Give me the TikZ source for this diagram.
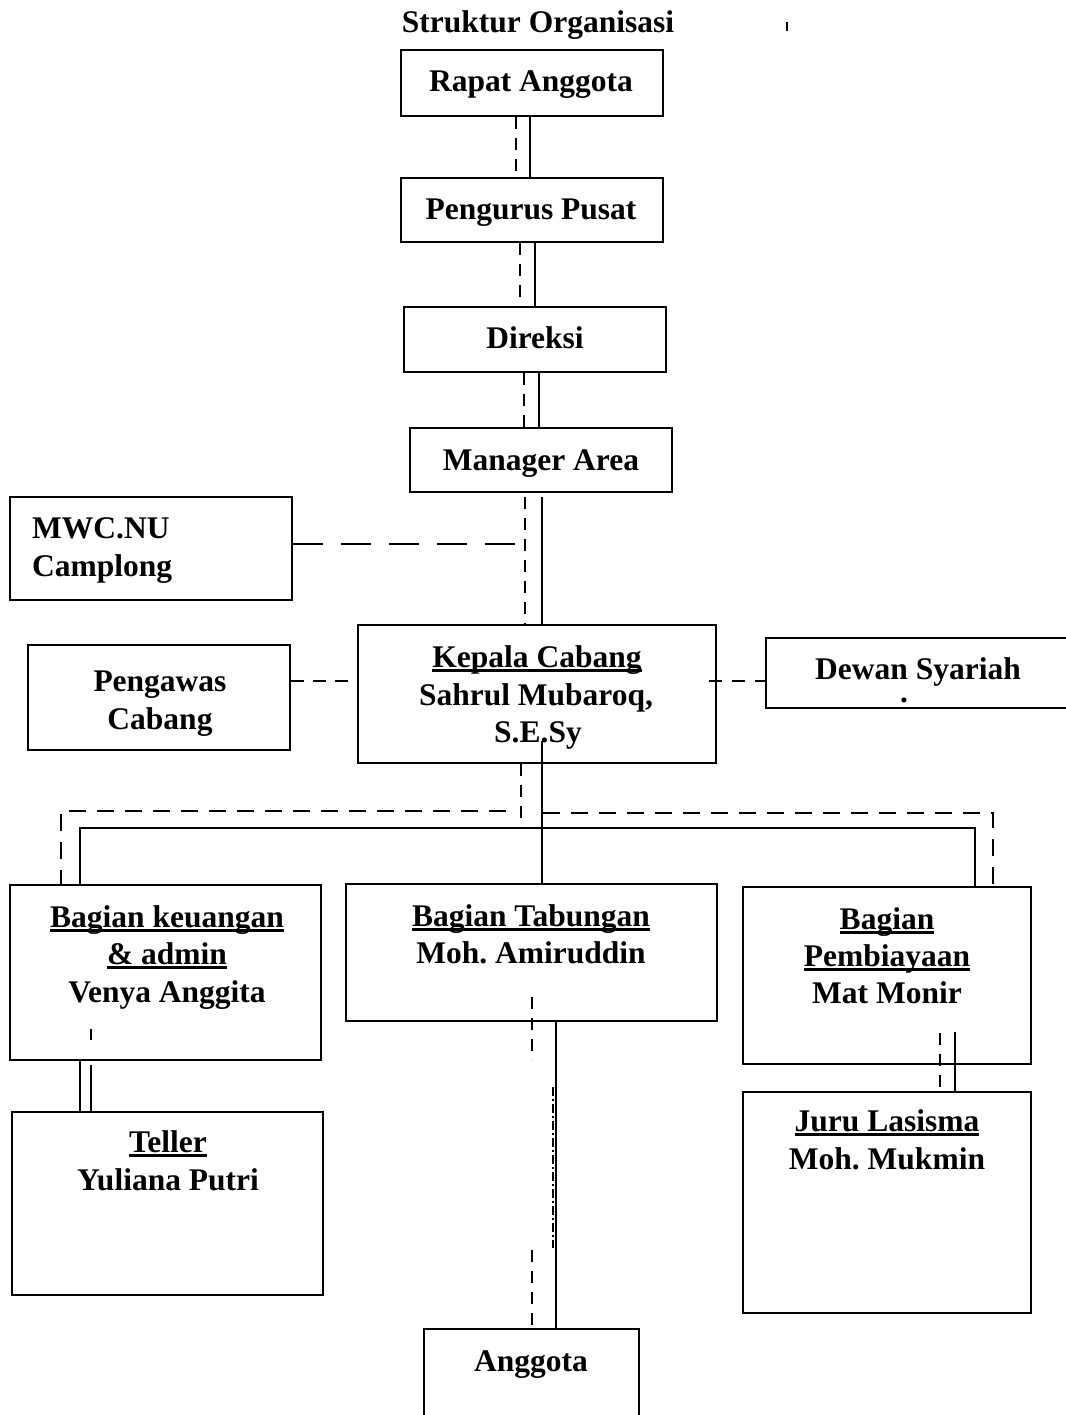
\documentclass[tikz,border=0pt]{standalone}
\usepackage{fontspec}
\setmainfont{Liberation Serif}
\frenchspacing
\newcommand\myul[1]{\setbox0\hbox{#1}\rlap{\rule[-4.5pt]{\wd0}{2.6pt}}\box0}
\newcommand\bx[5]{\node[box, minimum width={#4pt-#2pt}, minimum height={#5pt-#3pt}] (#1) at ({(#2+#4)/2},{(#3+#5)/2}) {};}
\begin{document}
\begin{tikzpicture}[x=1pt,y=-1pt,
  box/.style={draw, line width=2pt, inner sep=0pt},
  tx/.style={anchor=base, inner sep=0pt, font=\fontsize{31.5}{38}\selectfont\bfseries},
  con/.style={line width=1.8pt},
  dsh/.style={line width=1.8pt, dash pattern=on 12pt off 9pt},
  longdsh/.style={line width=1.8pt, dash pattern=on 30pt off 18pt},
  busdsh/.style={line width=2pt, dash pattern=on 17pt off 11pt},
  dshdot/.style={line width=1.6pt, dash pattern=on 9pt off 3pt on 2pt off 3pt}]
\useasboundingbox[fill=white] (0,0) rectangle (1065,1415);
% boxes
\bx{ra}{401}{50}{663}{116}
\bx{pp}{401}{178}{663}{242}
\bx{dr}{404}{307}{666}{372}
\bx{ma}{410}{428}{672}{492}
\bx{mwc}{10}{497}{292}{600}
\bx{pw}{28}{645}{290}{750}
\bx{kc}{358}{625}{716}{763}
\bx{ds}{766}{638}{1075}{708}
\bx{bk}{10}{885}{321}{1060}
\bx{bt}{346}{884}{717}{1021}
\bx{bp}{743}{887}{1031}{1064}
\bx{tl}{12}{1112}{323}{1295}
\bx{jl}{743}{1092}{1031}{1313}
\bx{an}{424}{1329}{639}{1430}
% texts
\node[tx] (title) at (538,33) {Struktur Organisasi};
\draw[line width=2pt] (787,22) -- (787,31);
\node[tx] (tra) at (531,92) {Rapat Anggota};
\node[tx] (tpp) at (531,220) {Pengurus Pusat};
\node[tx] (tdr) at (535,348) {Direksi};
\node[tx] (tma) at (541,470) {Manager Area};
\node[tx, anchor=base west] (tmwc1) at (32,538) {MWC.NU};
\node[tx, anchor=base west] (tmwc2) at (32,576) {Camplong};
\node[tx] (tpw1) at (160,691) {Pengawas};
\node[tx] (tpw2) at (160,729) {Cabang};
\node[tx] (tkc1) at (537,667) {\myul{Kepala Cabang}};
\node[tx] (tkc2) at (536,705) {Sahrul Mubaroq,};
\node[tx] (tkc3) at (538,742) {S.E.Sy};
\node[tx] (tds) at (918,679) {Dewan Syariah};
\node[tx] (tdsdot) at (904,702) {.};
\node[tx] (tbk1) at (167,927) {\myul{Bagian keuangan}};
\node[tx] (tbk2) at (167,964) {\myul{\& admin}};
\node[tx] (tbk3) at (167,1002) {Venya Anggita};
\node[tx] (tbt1) at (531,926) {\myul{Bagian Tabungan}};
\node[tx] (tbt2) at (531,963) {Moh. Amiruddin};
\node[tx] (tbp1) at (887,929) {\myul{Bagian}};
\node[tx] (tbp2) at (887,966) {\myul{Pembiayaan}};
\node[tx] (tbp3) at (887,1003) {Mat Monir};
\node[tx] (ttl1) at (168,1152) {\myul{Teller}};
\node[tx] (ttl2) at (168,1190) {Yuliana Putri};
\node[tx] (tjl1) at (887,1131) {\myul{Juru Lasisma}};
\node[tx] (tjl2) at (887,1169) {Moh. Mukmin};
\node[tx] (tan) at (531,1371) {Anggota};
% vertical chain
\draw[dsh] (516,0 |- ra.south) -- (516,0 |- pp.north);
\draw[con] (530,0 |- ra.south) -- (530,0 |- pp.north);
\draw[dsh] (520,0 |- pp.south) -- (520,0 |- dr.north);
\draw[con] (535,0 |- pp.south) -- (535,0 |- dr.north);
\draw[dsh] (524,0 |- dr.south) -- (524,0 |- ma.north);
\draw[con] (539,0 |- dr.south) -- (539,0 |- ma.north);
\draw[dsh] (525,497) -- (525,0 |- kc.north);
\draw[con] (542,497) -- (542,0 |- kc.north);
% side links
\coordinate (mwcend) at (523,544);
\draw[longdsh] (mwc.east |- mwcend) -- (mwcend);
\draw[dsh, dash pattern=on 13pt off 9pt] (pw.east |- 0,681) -- (kc.west |- 0,681);
\coordinate (kcin) at (709,681);
\draw[dsh, dash pattern=on 13pt off 10pt] (kcin) -- (ds.west |- kcin);
% from Kepala down
\coordinate (kcs) at (542,741);
\draw[con] (kcs) -- (542,0 |- bt.north);
\coordinate (busdash) at (521,828);
\draw[dsh] (521,0 |- kc.south) -- (busdash);
\draw[con, line width=1.5pt] (80,0 |- bk.north) -- (80,828) -- (975,828) -- (975,0 |- bp.north);
\draw[busdsh] (506,811) -- (61,811) -- (61,0 |- bk.north);
\draw[busdsh] (543,813) -- (993,813) -- (993,885);
% keuangan -> teller
\draw[con] (80,0 |- bk.south) -- (80,0 |- tl.north);
\draw[con] (91,1065) -- (91,0 |- tl.north);
\draw[con] (91,1029) -- (91,1040);
% tabungan -> anggota
\draw[dsh] (532,997) -- (532,1060);
\draw[dsh] (532,1250) -- (532,0 |- an.north);
\draw[con] (556,0 |- bt.south) -- (556,0 |- an.north);
\draw[dshdot] (553,1087) -- (553,1248);
% pembiayaan -> juru
\draw[dsh] (940,1033) -- (940,1095);
\draw[con] (955,1032) -- (955,0 |- jl.north);
\end{tikzpicture}
\end{document}
